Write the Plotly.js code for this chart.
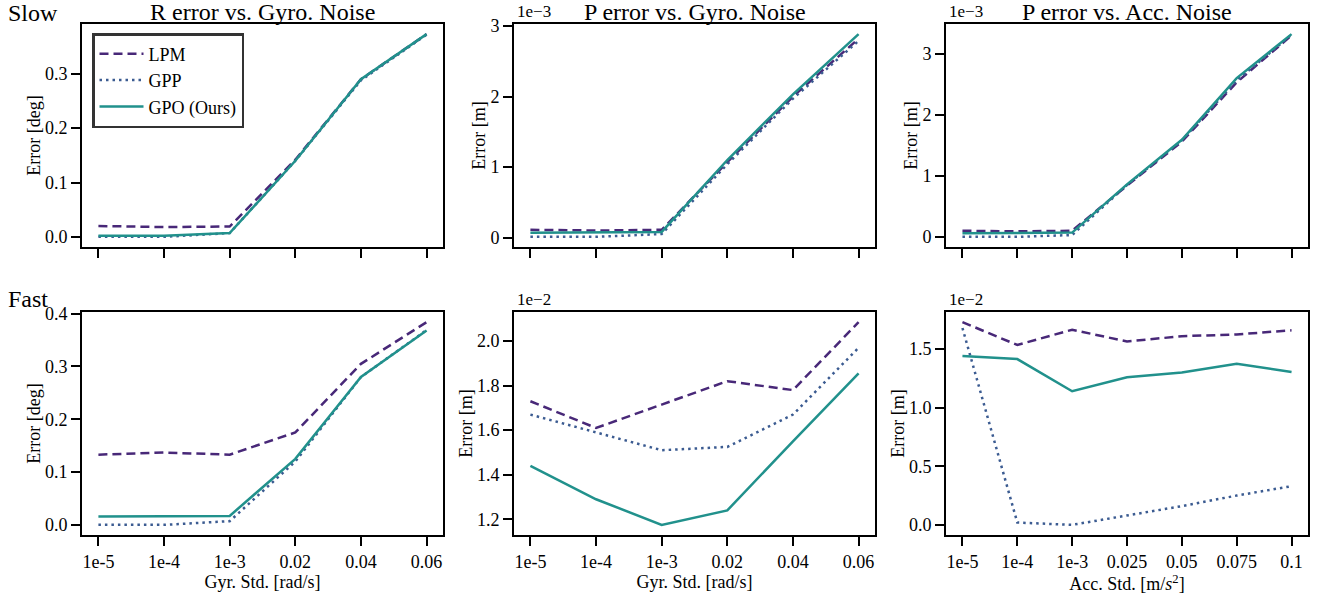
<!DOCTYPE html>
<html>
<head>
<meta charset="utf-8">
<script src="https://cdn.plot.ly/plotly-3.0.1.min.js"></script>
<style>html,body{margin:0;padding:0;background:#fff;}#chart{width:1321px;height:596px;}</style>
</head>
<body>
<div id="chart"></div>
<script>
// ---- Data ----
const seriesNames = ['LPM', 'GPP', 'GPO (Ours)'];
const xGyro = ['1e-5', '1e-4', '1e-3', '0.02', '0.04', '0.06'];
const xAcc = ['1e-5', '1e-4', '1e-3', '0.025', '0.05', '0.075', '0.1'];

// Slow: R error vs gyro noise [deg]
const rSlow_LPM = [0.020, 0.018, 0.019, 0.142, 0.290, 0.373];
const rSlow_GPP = [0.000, 0.000, 0.007, 0.140, 0.288, 0.372];
const rSlow_GPO = [0.002, 0.002, 0.007, 0.140, 0.290, 0.373];
// Slow: P error vs gyro noise [m, x1e-3]
const pGyroSlow_LPM = [0.11, 0.10, 0.11, 1.07, 2.00, 2.82];
const pGyroSlow_GPP = [0.01, 0.01, 0.05, 1.04, 1.97, 2.79];
const pGyroSlow_GPO = [0.07, 0.07, 0.08, 1.10, 2.03, 2.885];
// Slow: P error vs acc noise [m, x1e-3]
const pAccSlow_LPM = [0.10, 0.09, 0.10, 0.84, 1.56, 2.53, 3.30];
const pAccSlow_GPP = [0.00, 0.00, 0.03, 0.85, 1.58, 2.56, 3.31];
const pAccSlow_GPO = [0.06, 0.06, 0.07, 0.86, 1.59, 2.60, 3.32];
// Fast: R error vs gyro noise [deg]
const rFast_LPM = [0.133, 0.137, 0.133, 0.175, 0.305, 0.384];
const rFast_GPP = [0.000, 0.000, 0.007, 0.120, 0.280, 0.369];
const rFast_GPO = [0.016, 0.017, 0.017, 0.125, 0.280, 0.368];
// Fast: P error vs gyro noise [m, x1e-2]
const pGyroFast_LPM = [1.73, 1.61, 1.715, 1.82, 1.78, 2.085];
const pGyroFast_GPP = [1.67, 1.59, 1.51, 1.525, 1.67, 1.97];
const pGyroFast_GPO = [1.44, 1.29, 1.175, 1.24, 1.55, 1.855];
// Fast: P error vs acc noise [m, x1e-2]
const pAccFast_LPM = [1.73, 1.535, 1.665, 1.565, 1.61, 1.625, 1.66];
const pAccFast_GPP = [1.68, 0.02, 0.00, 0.08, 0.16, 0.25, 0.33];
const pAccFast_GPO = [1.44, 1.415, 1.14, 1.26, 1.30, 1.375, 1.305];

const panelTitles = ['R error vs. Gyro. Noise', 'P error vs. Gyro. Noise', 'P error vs. Acc. Noise'];
const rowLabels = ['Slow', 'Fast'];
const offsetLabels = ['1e\u22123', '1e\u22123', '1e\u22122', '1e\u22122'];

// ---- Styling ----
const W = 1321, H = 596;
const FONT = 'Liberation Serif, Times New Roman, serif';
const colors = ['#482878', '#3b5b91', '#21918c'];
const dashes = ['9px,5px', '2.5px,4px', 'solid'];
const colPx = [[82, 443], [514, 875], [946, 1308]];
const rowPx = [[24, 247], [312, 535]];
const px2x = p => p / W;
const px2y = p => 1 - p / H;

const panels = [
  {row:0, col:0, x:xGyro, ys:[rSlow_LPM, rSlow_GPP, rSlow_GPO], fmt:'.1f', dtick:0.1, ytitle:'Error [deg]'},
  {row:0, col:1, x:xGyro, ys:[pGyroSlow_LPM, pGyroSlow_GPP, pGyroSlow_GPO], fmt:'d', dtick:1, ytitle:'Error [m]', off:0},
  {row:0, col:2, x:xAcc, ys:[pAccSlow_LPM, pAccSlow_GPP, pAccSlow_GPO], fmt:'d', dtick:1, ytitle:'Error [m]', off:1},
  {row:1, col:0, x:xGyro, ys:[rFast_LPM, rFast_GPP, rFast_GPO], fmt:'.1f', dtick:0.1, ytitle:'Error [deg]', xtitle:'Gyr. Std. [rad/s]'},
  {row:1, col:1, x:xGyro, ys:[pGyroFast_LPM, pGyroFast_GPP, pGyroFast_GPO], fmt:'.1f', dtick:0.2, ytitle:'Error [m]', xtitle:'Gyr. Std. [rad/s]', off:2},
  {row:1, col:2, x:xAcc, ys:[pAccFast_LPM, pAccFast_GPP, pAccFast_GPO], fmt:'.1f', dtick:0.5, ytitle:'Error [m]', xtitle:'Acc. Std. [m/<i>s</i><sup>2</sup>]', off:3},
];

const traces = [];
const layout = {
  width: W, height: H, autosize: false,
  margin: {l:0, r:0, t:0, b:0},
  paper_bgcolor: '#fff', plot_bgcolor: '#fff',
  font: {family: FONT, size: 18, color: '#000'},
  showlegend: true,
  legend: {
    x: px2x(92), y: px2y(33), xanchor: 'left', yanchor: 'top',
    bgcolor: '#fff', bordercolor: '#333', borderwidth: 2.5,
    font: {family: FONT, size: 18, color: '#000'},
    tracegroupgap: 0, itemwidth: 44
  },
  annotations: [],
};

panels.forEach((p, i) => {
  const n = i + 1;
  const xa = 'xaxis' + (n === 1 ? '' : n);
  const ya = 'yaxis' + (n === 1 ? '' : n);
  const xr = 'x' + (n === 1 ? '' : n);
  const yr = 'y' + (n === 1 ? '' : n);
  const idx = p.x.map((_, k) => k);
  p.ys.forEach((ys, s) => {
    traces.push({
      type: 'scatter', mode: 'lines', x: idx, y: ys,
      xaxis: xr, yaxis: yr, name: seriesNames[s],
      line: {color: colors[s], width: 2.5, dash: dashes[s]},
      showlegend: i === 0, legendgroup: seriesNames[s], hoverinfo: 'skip'
    });
  });
  const all = [].concat(...p.ys);
  const mn = Math.min(...all), mx = Math.max(...all), pad = 0.05 * (mx - mn);
  const nC = p.x.length;
  const cp = colPx[p.col], rp = rowPx[p.row];
  const xaxis = {
    domain: [px2x(cp[0]), px2x(cp[1])], anchor: yr,
    range: [-0.05 * (nC - 1), (nC - 1) * 1.05],
    tickvals: idx, ticktext: p.x, showticklabels: p.row === 1,
    ticks: 'outside', ticklen: 9, tickwidth: 2, tickcolor: '#000',
    showline: true, linewidth: 2, linecolor: '#000', mirror: true,
    showgrid: false, zeroline: false,
    tickfont: {family: FONT, size: 18, color: '#000'}
  };
  if (p.xtitle) xaxis.title = {text: p.xtitle, font: {family: FONT, size: 18, color: '#000'}, standoff: 2};
  layout[xa] = xaxis;
  layout[ya] = {
    domain: [px2y(rp[1]), px2y(rp[0])], anchor: xr,
    range: [mn - pad, mx + pad],
    dtick: p.dtick, tick0: 0, tickformat: p.fmt,
    ticks: 'outside', ticklen: 9, tickwidth: 2, tickcolor: '#000',
    showline: true, linewidth: 2, linecolor: '#000', mirror: true,
    showgrid: false, zeroline: false,
    tickfont: {family: FONT, size: 18, color: '#000'},
    title: {text: p.ytitle, font: {family: FONT, size: 18, color: '#000'}, standoff: 0}
  };
  if (p.row === 0) {
    layout.annotations.push({
      text: panelTitles[p.col], xref: 'paper', yref: 'paper',
      x: px2x((cp[0] + cp[1]) / 2), y: px2y(12), xanchor: 'center', yanchor: 'middle',
      showarrow: false, font: {family: FONT, size: 24, color: '#000'}
    });
  }
  if (p.off !== undefined) {
    layout.annotations.push({
      text: offsetLabels[p.off], xref: 'paper', yref: 'paper',
      x: px2x(cp[0] + 1), y: px2y(rp[0] - 13), xanchor: 'left', yanchor: 'middle',
      showarrow: false, font: {family: FONT, size: 17, color: '#000'}
    });
  }
});

rowLabels.forEach((t, r) => {
  layout.annotations.push({
    text: t, xref: 'paper', yref: 'paper',
    x: px2x(6), y: px2y(r === 0 ? 13 : 299), xanchor: 'left', yanchor: 'middle',
    showarrow: false, font: {family: FONT, size: 24, color: '#000'}
  });
});

Plotly.newPlot('chart', traces, layout, {staticPlot: true, displayModeBar: false});
</script>
</body>
</html>
